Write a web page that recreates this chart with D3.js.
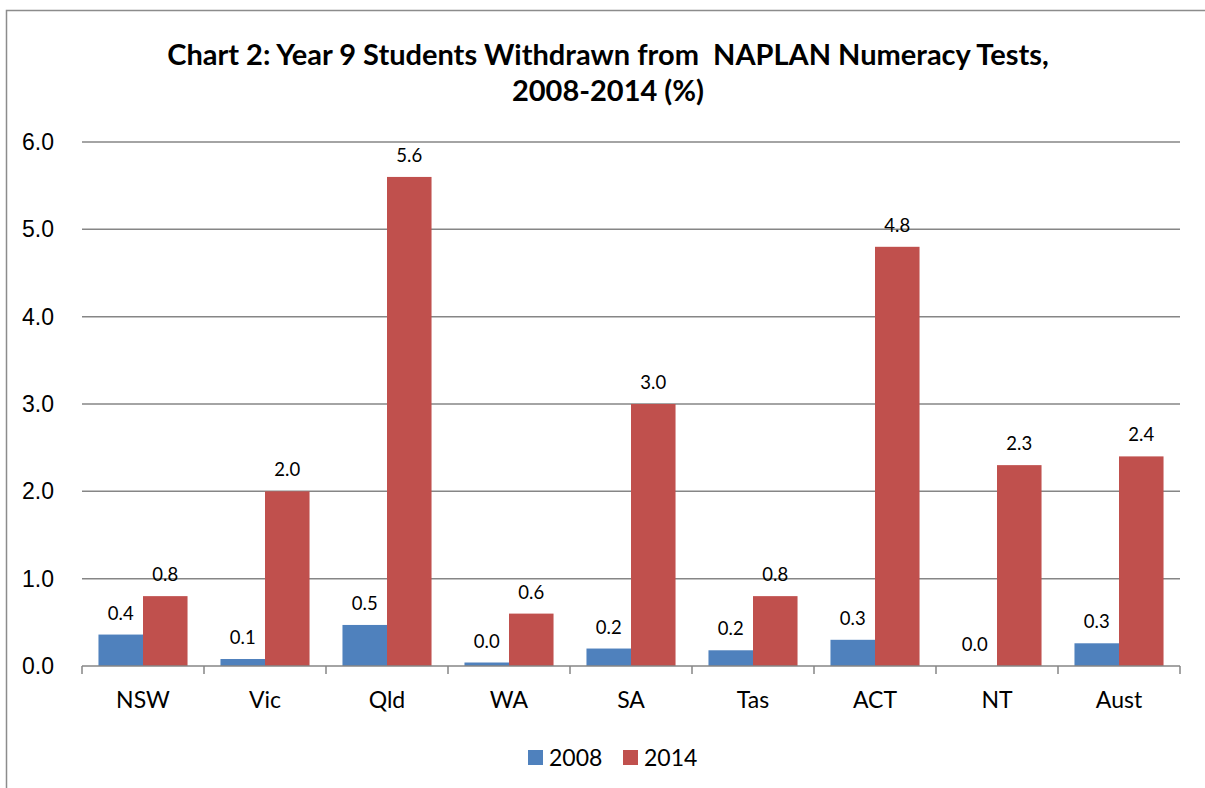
<!DOCTYPE html>
<html>
<head>
    <meta charset='utf-8'>
    <title>Chart 2</title>
    <style type="text/css">
        body { margin: 0; background: #fff; }
        svg { font-family: Lato, "Open Sans", sans-serif; }
        .grid line { stroke: #868686; stroke-width: 1.5; }
        .axis path, .axis line { stroke: #868686; stroke-width: 1.5; }
        .axis text { fill: #000; }
        .title { white-space: pre; }
    </style>
</head>
<body>
    <script src="https://cdn.jsdelivr.net/npm/d3@7/dist/d3.min.js"></script>

    <div id="svgContainer"></div>

    <script type="text/javascript">

        const categories = ["NSW", "Vic", "Qld", "WA", "SA", "Tas", "ACT", "NT", "Aust"];
        const years = ["2008", "2014"];
        const values2008 = [0.36, 0.08, 0.47, 0.04, 0.2, 0.18, 0.3, 0.0, 0.26];
        const values2014 = [0.8, 2.0, 5.6, 0.6, 3.0, 0.8, 4.8, 2.3, 2.4];
        const yTicks = [0, 1, 2, 3, 4, 5, 6];
        const colors = ["#4F81BD", "#C0504D"];

        const width = 1205;
        const height = 788;
        const margin = {left: 82, right: 25, top: 142, bottom: 122};

        const svg = d3.select("#svgContainer").append("svg")
            .attr("width", width)
            .attr("height", height);

        // chart frame
        svg.append("path")
            .attr("d", "M6.5," + height + "V10.5H" + width)
            .attr("fill", "none")
            .attr("stroke", "#8c8c8c")
            .attr("stroke-width", 1.5);

        svg.append("text")
            .attr("class", "title")
            .attr("x", 608).attr("y", 65)
            .attr("text-anchor", "middle")
            .attr("font-size", 29).attr("font-weight", "bold")
            .text("Chart 2: Year 9 Students Withdrawn from  NAPLAN Numeracy Tests,");
        svg.append("text")
            .attr("class", "title")
            .attr("x", 608).attr("y", 101)
            .attr("text-anchor", "middle")
            .attr("font-size", 29).attr("font-weight", "bold")
            .text("2008-2014 (%)");

        const x = d3.scaleBand()
            .domain(categories)
            .range([margin.left, width - margin.right])
            .paddingInner(0.27)
            .paddingOuter(0.135);

        const x1 = d3.scaleBand()
            .domain(years)
            .range([0, x.bandwidth()]);

        const y = d3.scaleLinear()
            .domain([0, 6])
            .range([height - margin.bottom, margin.top]);

        svg.append("g")
            .attr("class", "grid")
            .selectAll("line")
            .data(yTicks.slice(1))
            .join("line")
            .attr("x1", margin.left).attr("x2", width - margin.right)
            .attr("y1", d => y(d)).attr("y2", d => y(d));

        svg.append("g")
            .attr("class", "axis")
            .attr("transform", "translate(" + (margin.left - 25) + ",0)")
            .call(d3.axisLeft(y).tickValues(yTicks).tickFormat(d3.format(".1f")).tickSize(0))
            .call(g => g.select(".domain").remove())
            .selectAll("text").attr("font-size", 23).attr("dx", 0);

        const series = [values2008, values2014];

        const groups = svg.append("g")
            .selectAll("g")
            .data(categories)
            .join("g")
            .attr("transform", d => "translate(" + x(d) + ",0)");

        groups.selectAll("rect")
            .data((d, i) => years.map((yr, k) => ({yr: yr, v: series[k][i], k: k})))
            .join("rect")
            .attr("x", d => x1(d.yr))
            .attr("width", x1.bandwidth())
            .attr("y", d => y(d.v))
            .attr("height", d => y(0) - y(d.v))
            .attr("fill", d => colors[d.k]);

        groups.selectAll("text")
            .data((d, i) => years.map((yr, k) => ({yr: yr, v: series[k][i], k: k})))
            .join("text")
            .attr("x", d => x1(d.yr) + x1.bandwidth() / 2)
            .attr("y", d => y(d.v) - 15)
            .attr("text-anchor", "middle")
            .attr("font-size", 18.5)
            .text(d => d3.format(".1f")(d.v));

        // x axis with ticks between categories
        const xAxis = svg.append("g")
            .attr("class", "axis")
            .attr("transform", "translate(0," + y(0) + ")");
        xAxis.append("line")
            .attr("x1", margin.left).attr("x2", width - margin.right);
        xAxis.selectAll(".tk")
            .data(d3.range(categories.length + 1))
            .join("line")
            .attr("class", "tk")
            .attr("x1", i => margin.left + i * x.step())
            .attr("x2", i => margin.left + i * x.step())
            .attr("y1", 0).attr("y2", 8);
        xAxis.selectAll("text")
            .data(categories)
            .join("text")
            .attr("x", d => x(d) + x.bandwidth() / 2)
            .attr("y", 42)
            .attr("text-anchor", "middle")
            .attr("font-size", 23)
            .text(d => d);

        // legend
        const legend = svg.append("g")
            .selectAll("g")
            .data(years)
            .join("g")
            .attr("transform", (d, i) => "translate(" + (528 + i * 95) + ",750)");
        legend.append("rect")
            .attr("width", 15).attr("height", 15)
            .attr("fill", (d, i) => colors[i]);
        legend.append("text")
            .attr("x", 21).attr("y", 16)
            .attr("font-size", 23)
            .text(d => d);

    </script>
</body>
</html>
